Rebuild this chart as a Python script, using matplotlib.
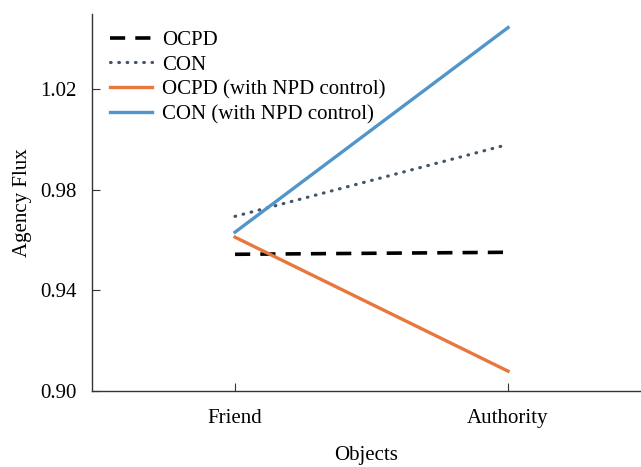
import numpy as np
import matplotlib
matplotlib.use("Agg")
import matplotlib.pyplot as plt

# data
objects = ["Friend", "Authority"]
ocpd = [0.9544, 0.9552]
con = [0.9695, 0.9981]
ocpd_npd = [0.9612, 0.9079]
con_npd = [0.9632, 1.0446]

yticks = [0.90, 0.94, 0.98, 1.02]

plt.rcParams['font.family'] = ['Liberation Serif', 'DejaVu Serif']

fig = plt.figure(figsize=(6.41, 4.67), dpi=100)
ax = fig.add_axes([0.1435, 0.1627, 0.8565, 0.8073])

x = np.arange(len(objects))
ax.plot(x, ocpd, color='black', lw=2.6, linestyle=(0, (4.2, 2.8)), label='OCPD')
ax.plot(x, con, color='#44546A', lw=2.3, linestyle=(0, (0.2, 2.4)),
        dash_capstyle='round', label='CON')
ax.plot(x, ocpd_npd, color='#E8773D', lw=2.4, label='OCPD (with NPD control)')
ax.plot(x, con_npd, color='#5196CB', lw=2.4, label='CON (with NPD control)')

ax.set_xlim(-0.524, 1.487)
ax.set_ylim(0.90, 1.05)
ax.set_xticks(x)
ax.set_xticklabels(objects)
ax.set_yticks(yticks)
ax.set_yticklabels([f"{v:.2f}" for v in yticks])
ax.tick_params(direction='in', length=6, labelsize=15, color='#333333')
ax.tick_params(axis='x', pad=13)
ax.tick_params(axis='y', pad=11)

for s in ['top', 'right']:
    ax.spines[s].set_visible(False)
for s in ['left', 'bottom']:
    ax.spines[s].set_linewidth(1.0)
    ax.spines[s].set_color('#333333')

ax.set_xlabel('Objects', fontsize=15, labelpad=13)
ax.set_ylabel('Agency Flux', fontsize=15, labelpad=6)

ax.legend(loc='upper left', bbox_to_anchor=(0.01, 0.99), frameon=False,
          fontsize=15, handlelength=2.0, handletextpad=0.5, labelspacing=0.25,
          borderaxespad=0.2)

fig.savefig('out.png', dpi=100)
